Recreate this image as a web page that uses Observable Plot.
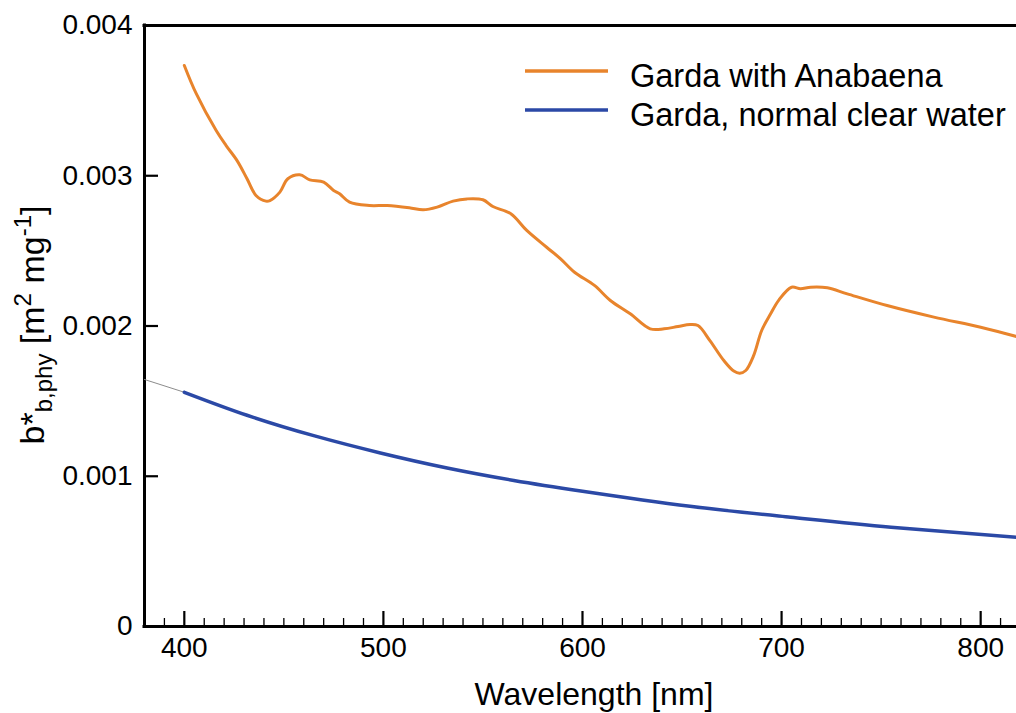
<!DOCTYPE html>
<html><head><meta charset="utf-8">
<script src="https://cdn.jsdelivr.net/npm/d3@7"></script>
<script src="https://cdn.jsdelivr.net/npm/@observablehq/plot@0.6"></script>
<style>body{margin:0;background:#fff} svg{display:block}</style>
</head><body><div id="chart"></div>
<script>
// ---- data ----
const anabaenaWavelength = [400,406,416,421,426.5,431.5,436,441,443,448,452,458,463,470,475,478,483,493,502,513,520,527,535,542,550,555,564,572,582,589,596,606,614,624,634,641,648,654,658,664,671,676,679,682,686,690,694.5,698.7,705,709.5,714.6,723,733,753,776.5,800,818];
const anabaenaValues = [0.003734,0.003546,0.003301,0.003201,0.003101,0.002980,0.002869,0.002831,0.002835,0.002891,0.002980,0.003006,0.002973,0.002957,0.002902,0.002880,0.002824,0.002802,0.002802,0.002787,0.002773,0.002791,0.002831,0.002846,0.002840,0.002795,0.002747,0.002636,0.002524,0.002447,0.002358,0.002270,0.002170,0.002081,0.001981,0.001981,0.001997,0.002010,0.002003,0.001903,0.001770,0.001700,0.001686,0.001704,0.001804,0.001970,0.002081,0.002174,0.002258,0.002248,0.002258,0.002254,0.002214,0.002136,0.002059,0.001992,0.001930];
const clearWavelength = [400,431.5,465,498.5,532,565.5,600,654,704.5,755,818];
const clearValues = [0.001559,0.001406,0.001270,0.001155,0.001055,0.000972,0.000900,0.000800,0.000727,0.000661,0.000594];
const extrapWavelength = [380,400];
const extrapValues = [0.001644,0.001559];
const xMajorTicks = [400,500,600,700,800];
const xTickLabels = ["400","500","600","700","800"];
const xMinorTicks = [390,410,420,430,440,450,460,470,480,490,510,520,530,540,550,560,570,580,590,610,620,630,640,650,660,670,680,690,710,720,730,740,750,760,770,780,790,810];
const yTicks = [0,0.001,0.002,0.003,0.004];
const yTickLabels = ["0","0.001","0.002","0.003","0.004"];
const seriesNames = ["Garda with Anabaena","Garda, normal clear water"];
const seriesColors = ["#E8842C","#2B49A6"];

const anabaena = anabaenaWavelength.map((w,i)=>({w, v: anabaenaValues[i]}));
const clear = clearWavelength.map((w,i)=>({w, v: clearValues[i]}));
const extrap = extrapWavelength.map((w,i)=>({w, v: extrapValues[i]}));

const W=1016, H=713, mL=144, mR=0, mT=25, mB=87;
const plotW=W-mL-mR, plotH=H-mT-mB;
const FONT="'Liberation Sans', Arial, sans-serif";

const chart = Plot.plot({
  width: W, height: H, marginLeft: mL, marginRight: mR, marginTop: mT, marginBottom: mB,
  style: {fontFamily: FONT, background: "white", color: "black"},
  x: {domain: [380, 818]},
  y: {domain: [0, 0.004]},
  marks: [
    Plot.axisX(xMajorTicks, {tickSize: 0, tickPadding: 11, fontSize: 28, tickFormat: d => xTickLabels[xMajorTicks.indexOf(d)], label: null}),
    Plot.axisY(yTicks, {tickSize: 0, tickPadding: 12, fontSize: 28, tickFormat: d => yTickLabels[yTicks.indexOf(d)], label: null}),
    Plot.ruleX(xMinorTicks, {insetTop: plotH-8, stroke: "black", strokeWidth: 1.3}),
    Plot.ruleX(xMajorTicks, {insetTop: plotH-15, stroke: "black", strokeWidth: 2.2}),
    Plot.ruleY(yTicks, {insetRight: plotW-14, stroke: "black", strokeWidth: 2.2}),
    Plot.ruleX([380], {stroke: "black", strokeWidth: 3, strokeLinecap: "square"}),
    Plot.ruleY([0, 0.004], {stroke: "black", strokeWidth: 3, strokeLinecap: "square"}),
    Plot.line(extrap, {x: "w", y: "v", stroke: "#8c8c8c", strokeWidth: 1}),
    Plot.line(clear, {x: "w", y: "v", stroke: seriesColors[1], strokeWidth: 3.5, curve: "natural"}),
    Plot.line(anabaena, {x: "w", y: "v", stroke: seriesColors[0], strokeWidth: 3, curve: "catmull-rom"})
  ]
});
document.getElementById("chart").appendChild(chart);

const svg = d3.select(chart);
// legend
const legY = [71, 110];
seriesNames.forEach((name, i) => {
  svg.append("line").attr("x1", 525).attr("x2", 608).attr("y1", legY[i]).attr("y2", legY[i])
    .attr("stroke", seriesColors[i]).attr("stroke-width", 3.5);
  svg.append("text").attr("x", 630).attr("y", legY[i] + 15.5).attr("text-anchor", "start")
    .attr("font-family", FONT).attr("font-size", 32.5).attr("fill", "black").text(name);
});
// x title
svg.append("text").attr("x", 594).attr("y", 705).attr("text-anchor", "middle")
  .attr("font-family", FONT).attr("font-size", 32).attr("fill", "black").text("Wavelength [nm]");
// y title
const yt = svg.append("text").attr("transform", "translate(44,325) rotate(-90)")
  .attr("text-anchor", "middle").attr("font-family", FONT).attr("font-size", 34).attr("fill", "black");
yt.append("tspan").text("b*");
yt.append("tspan").attr("font-size", 24).attr("dy", 8).text("b,phy");
yt.append("tspan").attr("dy", -8).text(" [m");
yt.append("tspan").attr("font-size", 24).attr("dy", -13).text("2");
yt.append("tspan").attr("dy", 13).text(" mg");
yt.append("tspan").attr("font-size", 24).attr("dy", -13).text("-1");
yt.append("tspan").attr("dy", 13).text("]");
</script></body></html>
